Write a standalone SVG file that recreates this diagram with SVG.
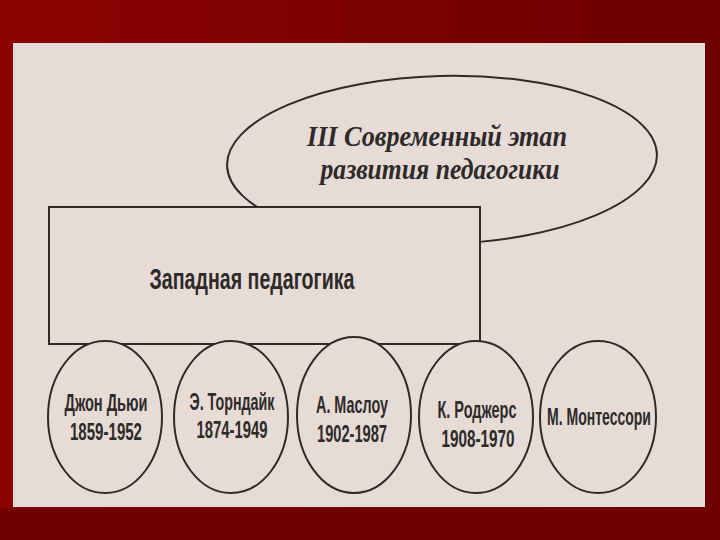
<svg xmlns="http://www.w3.org/2000/svg" width="720" height="540" viewBox="0 0 720 540">
<defs>
<linearGradient id="bg" x1="0" y1="0" x2="1" y2="0">
<stop offset="0" stop-color="#8c0202"/>
<stop offset="1" stop-color="#6c0000"/>
</linearGradient>
<style>
.sh{fill:#e6dcd5;stroke:#2f2a2a;stroke-width:2}
.t{font-family:"Liberation Sans Narrow","Liberation Sans",Arial,sans-serif;font-weight:bold;fill:#2e2a2a;text-anchor:middle}
.h{font-family:"Liberation Serif","Times New Roman",serif;font-weight:bold;font-style:italic;fill:#2e2a2a;text-anchor:middle;font-size:30px}
</style>
</defs>
<rect width="720" height="540" fill="url(#bg)"/>
<rect x="0" y="508" width="720" height="32" fill="#700000"/>
<rect x="13" y="43" width="692" height="464" fill="#e6dcd5"/>
<g id="stage">
<ellipse class="sh" cx="442" cy="160" rx="215" ry="84" transform="rotate(-1.5 442 160)"/>
<text class="h" x="437" y="146" textLength="260" lengthAdjust="spacingAndGlyphs">III Современный этап</text>
<text class="h" x="440" y="179" textLength="239" lengthAdjust="spacingAndGlyphs">развития педагогики</text>
</g>
<g id="western">
<rect class="sh" x="49" y="207" width="431" height="137"/>
<text class="t" x="252" y="289" font-size="30" textLength="205" lengthAdjust="spacingAndGlyphs">Западная педагогика</text>
</g>
<g id="connectors"></g>
<g id="dewey">
<ellipse class="sh" cx="105" cy="417" rx="57" ry="76"/>
<text class="t" x="106" y="411" font-size="23" textLength="83" lengthAdjust="spacingAndGlyphs">Джон Дьюи</text>
<text class="t" x="106" y="440" font-size="23" textLength="72" lengthAdjust="spacingAndGlyphs">1859-1952</text>
</g>
<g id="thorndike">
<ellipse class="sh" cx="231" cy="417" rx="57" ry="76"/>
<text class="t" x="232" y="410" font-size="23" textLength="85" lengthAdjust="spacingAndGlyphs">Э. Торндайк</text>
<text class="t" x="232" y="438" font-size="23" textLength="71" lengthAdjust="spacingAndGlyphs">1874-1949</text>
</g>
<g id="maslow">
<ellipse class="sh" cx="354" cy="415" rx="57" ry="78"/>
<text class="t" x="352" y="413" font-size="23" textLength="72" lengthAdjust="spacingAndGlyphs">А. Маслоу</text>
<text class="t" x="352" y="442" font-size="23" textLength="70" lengthAdjust="spacingAndGlyphs">1902-1987</text>
</g>
<g id="rogers">
<ellipse class="sh" cx="476" cy="417" rx="57" ry="76"/>
<text class="t" x="477" y="418" font-size="23" textLength="79" lengthAdjust="spacingAndGlyphs">К. Роджерс</text>
<text class="t" x="478" y="447" font-size="23" textLength="73" lengthAdjust="spacingAndGlyphs">1908-1970</text>
</g>
<g id="montessori">
<ellipse class="sh" cx="598" cy="417" rx="58" ry="76"/>
<text class="t" x="599" y="425" font-size="23" textLength="104" lengthAdjust="spacingAndGlyphs">М. Монтессори</text>
</g>
</svg>
